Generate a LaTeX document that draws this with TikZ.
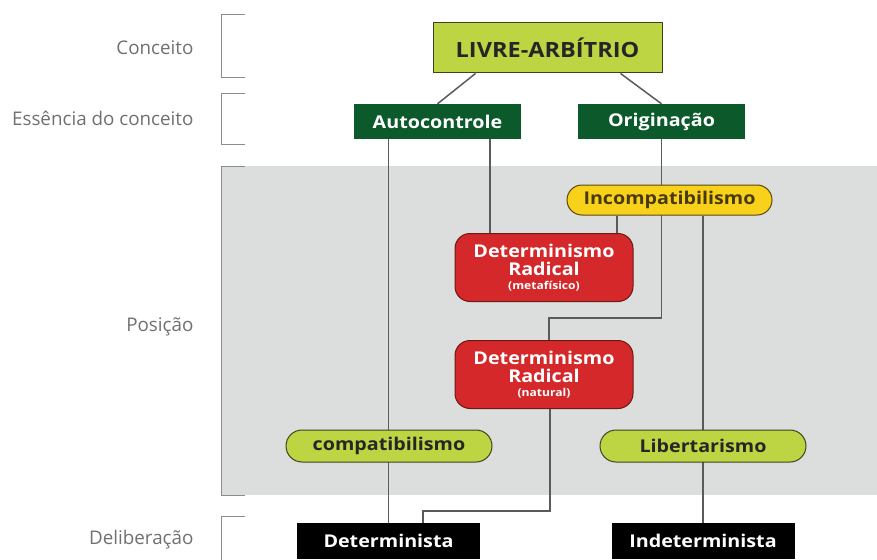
\documentclass[tikz,border=0pt]{standalone}
\usepackage{fontspec}
\setmainfont{Open Sans}
\newfontfamily\widesans{Open Sans}[FakeStretch=1.12]
\usepackage{xcolor}
\usepackage{tikz}
\usetikzlibrary{positioning,backgrounds,shapes.misc}
\definecolor{limefill}{HTML}{BDD443}
\definecolor{olivedraw}{HTML}{3E4222}
\definecolor{forest}{HTML}{0C5A2C}
\definecolor{redfill}{HTML}{D4282A}
\definecolor{reddraw}{HTML}{6B1A14}
\definecolor{yellowfill}{HTML}{F7D11A}
\definecolor{yellowdraw}{HTML}{5A4712}
\definecolor{panelgray}{HTML}{DCDDDD}
\definecolor{linkgray}{HTML}{5A5A5A}
\definecolor{labelgray}{HTML}{707070}

\begin{document}
\begin{tikzpicture}[
x=1pt, y=-1pt,
font=\widesans\fontsize{17.6}{18}\selectfont\bfseries,
box/.style={align=center, inner sep=0pt},
concept/.style={box, draw=olivedraw, line width=1pt, fill=limefill, text=black!85,
  minimum width=229pt, minimum height=50pt, font=\widesans\fontsize{21}{22}\selectfont\bfseries},
essence/.style={box, fill=forest, text=white, minimum width=167pt, minimum height=35pt},
radical/.style={box, draw=reddraw, line width=1pt, fill=redfill, text=white, rounded corners=15pt,
  minimum width=178pt, minimum height=68pt},
pill/.style={box, rounded rectangle, draw=olivedraw, line width=1pt, fill=limefill, text=black!85,
  minimum width=206pt, minimum height=32pt},
incomp/.style={pill, fill=yellowfill, draw=yellowdraw, text=yellowdraw!80!black, minimum width=205pt, minimum height=30pt},
delib/.style={box, fill=black, text=white, minimum width=183pt, minimum height=36pt},
level/.style={anchor=east, text=labelgray, font=\fontsize{18.8}{20}\selectfont},
bracket/.style={draw=black!45, line width=1pt},
link/.style={draw=linkgray, line width=1.5pt}
]
\useasboundingbox (0,0) rectangle (877,559);

% Level labels
\node[level] (lconc) at (197,48) {Conceito};
\node[level] (less) at (197,118) {Essência do conceito};
\node[level] (lpos) at (197,327) {Posição};
\node[level] (ldel) at (197,540) {Deliberação};

% Concept and essence
\node[concept] (livre) at (547.5,48) {LIVRE-ARBÍTRIO};
\node[essence] (auto) at (437.5,121.5) {Autocontrole};
\node[essence] (orig) at (661.5,121.5) {Originação};

% Positions
\node[incomp] (incomp) at (669.5,200) {Incompatibilismo};
\node[radical] (drmeta) at (544,267.5)
{Determinismo\\Radical\\[-4pt]{\fontsize{10.8}{12}\selectfont(metafísico)}};
\node[radical] (drnat) at (544,374.5)
{Determinismo\\Radical\\[-4pt]{\fontsize{10.8}{12}\selectfont(natural)}};
\node[pill] (compat) at (389,446) {compatibilismo};
\node[pill] (lib) at (703,446) {Libertarismo};

% Deliberation
\node[delib] (det) at (388.5,541) {Determinista};
\node[delib] (indet) at (703,541) {Indeterminista};

\begin{scope}[on background layer]
% Panel and brackets
\fill[panelgray] (222,166) rectangle (877,495);
\draw[bracket] (245,15) -- (221,15) -- (221,78) -- (245,78);
\draw[bracket] (245,94) -- (221,94) -- (221,144) -- (245,144);
\draw[bracket] (245,166) -- (221,166) -- (221,495) -- (245,495);
\draw[bracket] (245,516) -- (221,516) -- (221,562);

% Connections
\draw[link] ([xshift=-72pt]livre.south) -- (auto.north);
\draw[link] ([xshift=73pt]livre.south) -- (orig.north);
\draw[link] (det.north |- auto.south) -- (det.north);
\draw[link] ([xshift=52.5pt]auto.south) -- ([xshift=52.5pt]auto.south |- drmeta.north);
\draw[link] (orig.south) |- ([xshift=5pt,yshift=22pt]drnat.north) -- ([xshift=5pt]drnat.north);
\draw[link] ([xshift=-52.5pt]incomp.south) -- ([xshift=-52.5pt]incomp.south |- drmeta.north);
\draw[link] (indet.north |- incomp.south) -- (indet.north);
\draw[link] ([xshift=6pt]drnat.south) |- ([xshift=34.5pt,yshift=12pt]det.north) -- ([xshift=34.5pt]det.north);
\end{scope}

\end{tikzpicture}
\end{document}
